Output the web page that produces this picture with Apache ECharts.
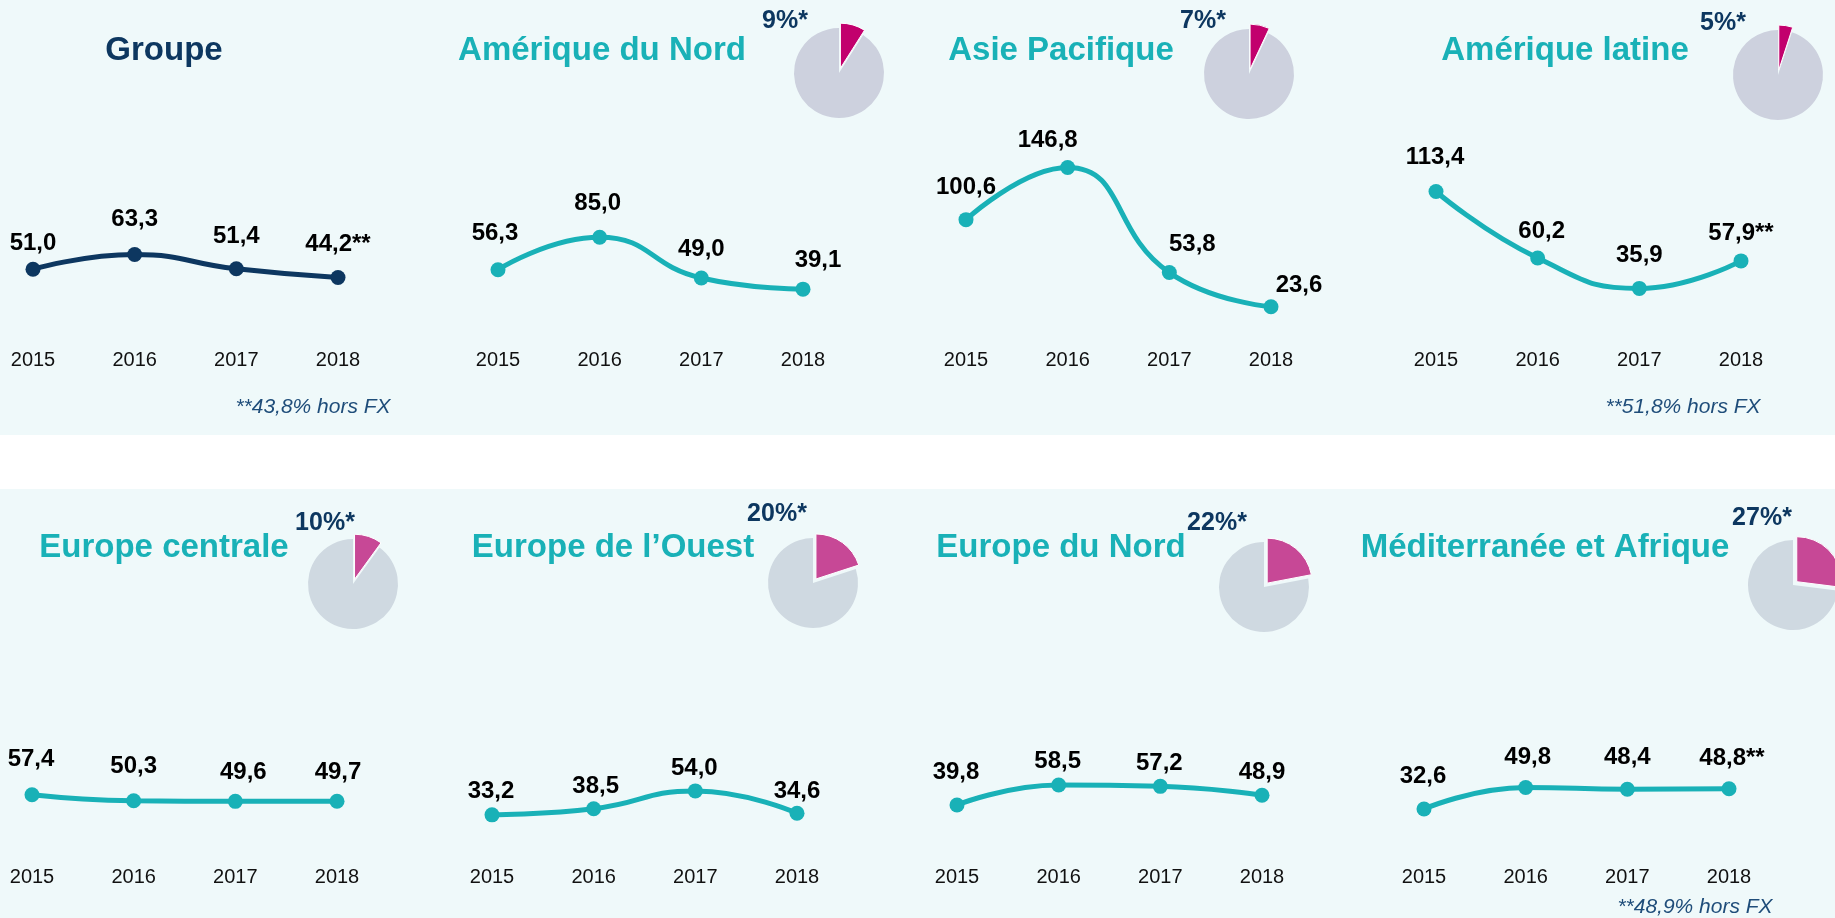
<!DOCTYPE html>
<html>
<head>
<meta charset="utf-8">
<script src="https://cdn.jsdelivr.net/npm/echarts@6/dist/echarts.min.js"></script>
<style>
html, body { margin: 0; padding: 0; background: #fff; }
#chart { width: 1835px; height: 918px; }
</style>
</head>
<body>
<div id="chart"></div>
<script>
// data
var years = ['2015', '2016', '2017', '2018'];
var regions = ['Groupe', 'Amérique du Nord', 'Asie Pacifique', 'Amérique latine',
    'Europe centrale', 'Europe de l\u2019Ouest', 'Europe du Nord', 'Méditerranée et Afrique'];
var groupe = [51.0, 63.3, 51.4, 44.2];
var ameriqueNord = [56.3, 85.0, 49.0, 39.1];
var asiePacifique = [100.6, 146.8, 53.8, 23.6];
var ameriqueLatine = [113.4, 60.2, 35.9, 57.9];
var europeCentrale = [57.4, 50.3, 49.6, 49.7];
var europeOuest = [33.2, 38.5, 54.0, 34.6];
var europeNord = [39.8, 58.5, 57.2, 48.9];
var mediterranee = [32.6, 49.8, 48.4, 48.8];
var series8 = [groupe, ameriqueNord, asiePacifique, ameriqueLatine, europeCentrale, europeOuest, europeNord, mediterranee];
var shares = [null, 9, 7, 5, 10, 20, 22, 27];
var lastMark = ['**', '', '', '**', '', '', '', '**'];
var footnotes = ['**43,8% hors FX', null, null, '**51,8% hors FX', null, null, null, '**48,9% hors FX'];

// layout of each panel
var layout = [
    {x: 33, row: 0, yMin: -12.1, yMax: 192.1, title: [164, 51], pie: null, labels: [[0, -26], [0, -35], [0, -32], [0, -33]], note: [313, 407]},
    {x: 498, row: 0, yMin: -10.3, yMax: 206.5, title: [602, 51], pie: [839, 73], pct: [785, 21], labels: [[-3, -36], [-2, -34], [0, -29], [15, -29]]},
    {x: 966, row: 0, yMin: -10.3, yMax: 206.5, title: [1061, 51], pie: [1249, 74], pct: [1203, 21], labels: [[0, -32], [-20, -27], [23, -28], [28, -21]]},
    {x: 1436, row: 0, yMin: -9.4, yMax: 186.6, title: [1565, 51], pie: [1778, 75], pct: [1723, 23], labels: [[-1, -34], [4, -27], [0, -33], [0, -28]], note: [1683, 407]},
    {x: 32, row: 1, yMin: -21.8, yMax: 266.5, title: [164, 548], pie: [353, 584], pct: [325, 523], labels: [[-1, -35], [0, -34], [8, -29], [1, -29]]},
    {x: 492, row: 1, yMin: -7.8, yMax: 205.2, title: [613, 548], pie: [813, 583], pct: [777, 514], labels: [[-1, -23], [2, -22], [-1, -23], [0, -22]]},
    {x: 957, row: 1, yMin: -13.5, yMax: 215.5, title: [1061, 548], pie: [1264, 587], pct: [1217, 523], labels: [[-1, -33], [-1, -24], [-1, -23], [0, -23]]},
    {x: 1424, row: 1, yMin: -9.8, yMax: 186.2, title: [1545, 548], pie: [1793, 585], pct: [1762, 518], labels: [[-1, -33], [2, -30], [0, -32], [3, -30]], note: [1695, 907]}
];
var rowTop = [100, 617];
var gridH = 245;
var gridW = 305;

var navy = '#0d3760';
var teal = '#19b1b7';
var narrow = "'Liberation Sans Narrow', 'Arial Narrow', 'Liberation Sans', sans-serif";

function fmt(v) {
    return v.toFixed(1).replace('.', ',');
}

var grids = [], xAxes = [], yAxes = [], series = [];
var graphics = [
    {type: 'rect', z: -10, shape: {x: 0, y: 0, width: 1835, height: 435}, style: {fill: '#eff9fa'}},
    {type: 'rect', z: -10, shape: {x: 0, y: 489, width: 1835, height: 429}, style: {fill: '#eff9fa'}}
];

layout.forEach(function(p, i) {
    grids.push({left: p.x, top: rowTop[p.row], width: gridW, height: gridH});
    xAxes.push({
        gridIndex: i, type: 'category', data: years, boundaryGap: false,
        axisLine: {show: false}, axisTick: {show: false}, splitLine: {show: false},
        axisLabel: {margin: 5, fontSize: 20, color: '#111', fontFamily: narrow}
    });
    yAxes.push({gridIndex: i, type: 'value', min: p.yMin, max: p.yMax, show: false, splitLine: {show: false}});
    var col = i === 0 ? navy : teal;
    series.push({
        type: 'line', xAxisIndex: i, yAxisIndex: i,
        smooth: 0.5, symbol: 'circle', symbolSize: 15,
        lineStyle: {color: col, width: 5},
        itemStyle: {color: col},
        label: {
            show: true, position: 'inside', fontSize: 24, fontWeight: 'bold',
            color: '#000', fontFamily: narrow
        },
        data: series8[i].map(function(v, j) {
            return {
                value: v,
                label: {
                    offset: p.labels[j],
                    formatter: fmt(v) + (j === 3 ? lastMark[i] : '')
                }
            };
        })
    });

    graphics.push({
        type: 'text', x: p.title[0], y: p.title[1], z: 10,
        style: {
            text: regions[i], fill: i === 0 ? navy : teal,
            font: 'bold 33px "Liberation Sans", Arial, sans-serif',
            textAlign: 'center', textVerticalAlign: 'middle'
        }
    });

    if (p.pie) {
        var top = p.row === 0;
        series.push({
            type: 'pie', center: p.pie, radius: 45, startAngle: 90,
            selectedMode: 'single', selectedOffset: 5,
            label: {show: false}, labelLine: {show: false},
            emphasis: {disabled: true}, silent: true,
            data: [
                {value: shares[i], selected: true,
                    itemStyle: {color: top ? '#c2006d' : '#c74896', borderColor: '#fff', borderWidth: 1}},
                {value: 100 - shares[i], itemStyle: {color: top ? '#cdd1de' : '#cfd9e1'}}
            ]
        });
        graphics.push({
            type: 'text', x: p.pct[0], y: p.pct[1], z: 10,
            style: {
                text: shares[i] + '%*', fill: navy,
                font: 'bold 25px ' + narrow,
                textAlign: 'center', textVerticalAlign: 'middle'
            }
        });
    }

    if (footnotes[i]) {
        graphics.push({
            type: 'text', x: p.note[0], y: p.note[1], z: 10,
            style: {
                text: footnotes[i], fill: '#1f4d7a',
                font: 'italic 21px "Liberation Sans", Arial, sans-serif',
                textAlign: 'center', textVerticalAlign: 'middle'
            }
        });
    }
});

var chart = echarts.init(document.getElementById('chart'));
chart.setOption({
    animation: false,
    backgroundColor: 'transparent',
    grid: grids,
    xAxis: xAxes,
    yAxis: yAxes,
    series: series,
    graphic: graphics
});
</script>
</body>
</html>
